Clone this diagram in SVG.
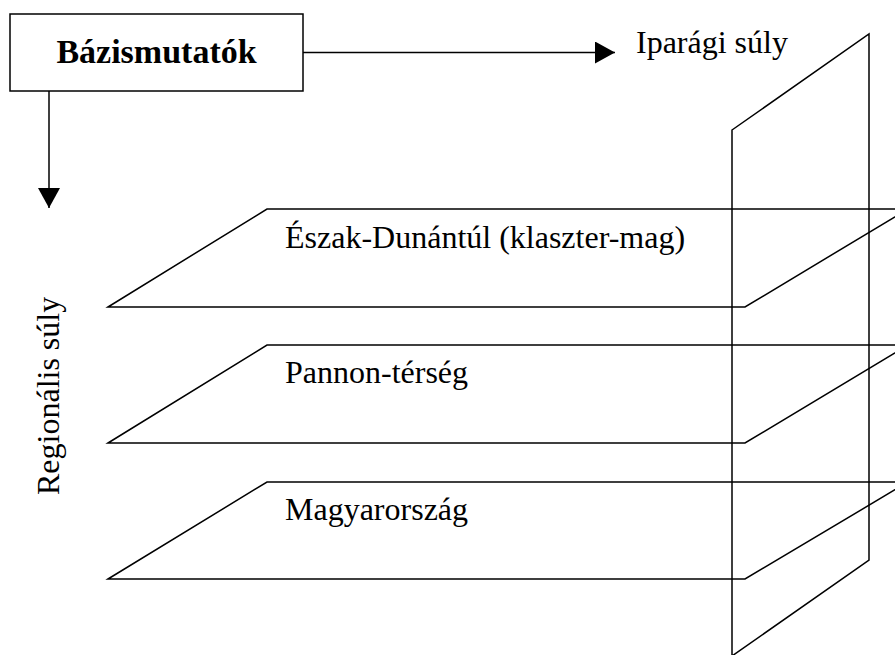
<svg xmlns="http://www.w3.org/2000/svg" width="895" height="655" viewBox="0 0 895 655">
  <style>
    .ln { fill: none; stroke: #000; stroke-width: 1.5; stroke-linejoin: miter; }
    .t { font-family: 'Liberation Serif', 'DejaVu Serif', 'Times New Roman', Times, serif; font-size: 32px; fill: #000; }
    .b { font-family: 'Liberation Serif', 'DejaVu Serif', 'Times New Roman', Times, serif; font-size: 34px; font-weight: bold; fill: #000; }
  </style>
  <defs>
    <marker id="ah" markerUnits="userSpaceOnUse" markerWidth="22" markerHeight="24" refX="20" refY="11" orient="auto">
      <path d="M0,0 L20,11 L0,22 Z" fill="#000"/>
    </marker>
  </defs>
  <rect width="895" height="655" fill="#fff"/>

  <g id="plane-iparagi">
    <polygon class="ln" points="732,130 869,34 869,560 732,656"/>
  </g>

  <g id="plane-eszak">
    <polygon class="ln" points="108,307 267,209 908,209 745,307"/>
    <text class="t" x="285" y="248" font-family="Liberation Serif, DejaVu Serif, serif">Észak-Dunántúl (klaszter-mag)</text>
  </g>

  <g id="plane-pannon">
    <polygon class="ln" points="108,443 267,345 908,345 745,443"/>
    <text class="t" x="285" y="383" font-family="Liberation Serif, DejaVu Serif, serif">Pannon-térség</text>
  </g>

  <g id="plane-magyarorszag">
    <polygon class="ln" points="108,579 267,482 908,482 745,579"/>
    <text class="t" x="285" y="520" font-family="Liberation Serif, DejaVu Serif, serif">Magyarország</text>
  </g>

  <g id="bazismutatok">
    <rect class="ln" x="10" y="14" width="293" height="77"/>
    <text class="b" x="156.5" y="63" text-anchor="middle" font-family="Liberation Serif, DejaVu Serif, serif">Bázismutatók</text>
  </g>

  <g id="label-iparagi">
    <text class="t" x="636" y="53" font-family="Liberation Serif, DejaVu Serif, serif">Iparági súly</text>
  </g>

  <g id="label-regionalis">
    <text class="t" transform="translate(59,495) rotate(-90)" font-family="Liberation Serif, DejaVu Serif, serif">Regionális súly</text>
  </g>

  <g id="connectors">
    <line class="ln" x1="303" y1="52.5" x2="615" y2="52.5" marker-end="url(#ah)"/>
    <line class="ln" x1="49" y1="91" x2="49" y2="208" marker-end="url(#ah)"/>
  </g>
</svg>
